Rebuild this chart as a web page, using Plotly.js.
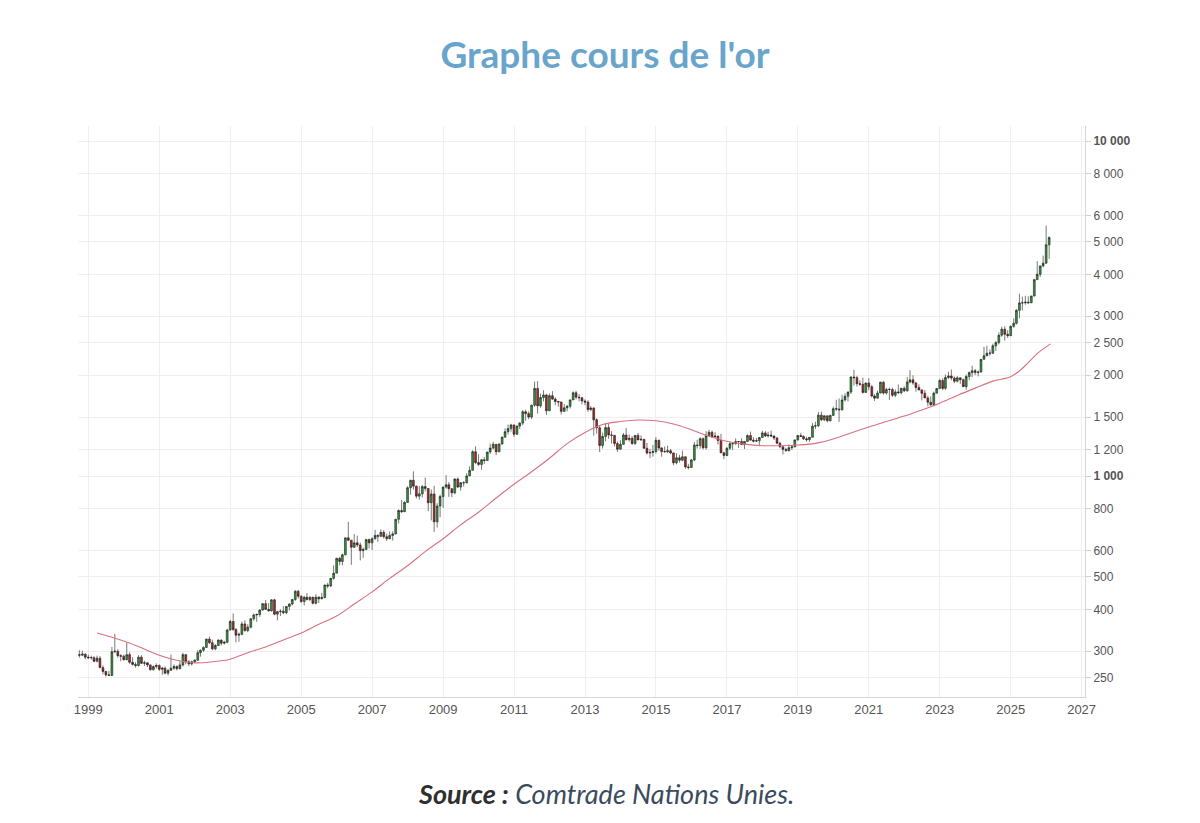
<!DOCTYPE html>
<html lang="fr">
<head>
<meta charset="utf-8">
<title>Graphe cours de l'or</title>
<script src="https://cdn.plot.ly/plotly-3.0.1.min.js"></script>
<style>
  html, body { margin: 0; padding: 0; background: #fff; overflow: hidden; }
  #gold-chart { width: 1200px; height: 823px; }
</style>
</head>
<body>
<div id="gold-chart"></div>
<script>
/* Monthly gold candles, Sep 1998 - Feb 2026 (USD / oz) */

const FIRST_MONTH = { year: 1998, month: 9 };

const opens = [
  273, 293, 292, 294,
  288, 287, 287, 280, 286, 268, 261, 255, 254, 299, 300, 291,
  290, 283, 293, 278, 274, 272, 288, 276, 277, 273, 264, 270,
  272, 265, 267, 258, 263, 267, 270, 266, 273, 293, 279, 275,
  279, 282, 297, 302, 308, 326, 318, 305, 312, 324, 317, 319,
  347, 368, 348, 335, 337, 362, 346, 354, 375, 385, 386, 398,
  416, 400, 396, 427, 387, 394, 395, 391, 408, 415, 428, 453,
  438, 422, 435, 428, 435, 417, 435, 430, 434, 473, 470, 495,
  513, 568, 556, 582, 654, 643, 613, 632, 623, 599, 604, 646,
  632, 650, 665, 661, 679, 659, 650, 665, 672, 743, 789, 783,
  834, 923, 971, 933, 871, 885, 930, 918, 833, 884, 730, 814,
  869, 927, 942, 917, 891, 980, 927, 955, 955, 1001, 1040, 1182,
  1097, 1083, 1118, 1113, 1180, 1212, 1244, 1181, 1247, 1307, 1357, 1386,
  1421, 1333, 1410, 1439, 1556, 1536, 1500, 1628, 1826, 1620, 1715, 1746,
  1566, 1738, 1697, 1669, 1664, 1560, 1598, 1615, 1688, 1773, 1720, 1713,
  1675, 1663, 1580, 1596, 1472, 1393, 1234, 1313, 1395, 1327, 1323, 1250,
  1202, 1244, 1326, 1284, 1296, 1250, 1322, 1282, 1287, 1210, 1172, 1175,
  1184, 1279, 1213, 1183, 1182, 1190, 1172, 1095, 1134, 1115, 1142, 1065,
  1061, 1117, 1238, 1233, 1293, 1215, 1322, 1351, 1309, 1316, 1277, 1173,
  1152, 1211, 1249, 1249, 1268, 1268, 1242, 1269, 1322, 1280, 1271, 1275,
  1303, 1345, 1318, 1325, 1316, 1299, 1253, 1224, 1201, 1192, 1215, 1222,
  1282, 1321, 1313, 1292, 1284, 1305, 1409, 1413, 1520, 1472, 1513, 1463,
  1517, 1589, 1585, 1577, 1687, 1730, 1781, 1975, 1967, 1886, 1879, 1777,
  1895, 1848, 1734, 1708, 1769, 1906, 1770, 1814, 1813, 1743, 1783, 1774,
  1829, 1797, 1909, 1937, 1897, 1837, 1807, 1766, 1711, 1661, 1633, 1768,
  1824, 1928, 1827, 1969, 1990, 1962, 1919, 1965, 1940, 1849, 1983, 2036,
  2063, 2039, 2044, 2230, 2286, 2327, 2326, 2447, 2503, 2634, 2744, 2650,
  2625, 2798, 2858, 3123, 3288, 3289, 3303, 3290, 3448, 3858, 4002, 4239,
  4320, 4900,
];

const highs = [
  301, 302, 301, 296,
  293, 291, 290, 291, 290, 272, 262, 262, 309, 338, 304, 294,
  293, 318, 298, 288, 278, 292, 292, 281, 278, 274, 272, 276,
  274, 269, 270, 265, 293, 274, 272, 280, 297, 294, 282, 281,
  284, 302, 304, 310, 327, 332, 325, 315, 325, 325, 322, 350,
  372, 389, 352, 341, 368, 371, 361, 376, 389, 389, 400, 418,
  427, 418, 429, 430, 395, 400, 409, 410, 417, 430, 456, 457,
  440, 438, 447, 437, 436, 444, 438, 448, 474, 480, 496, 541,
  570, 574, 586, 655, 730, 645, 671, 664, 633, 612, 650, 651,
  657, 691, 670, 693, 690, 673, 683, 684, 745, 795, 848, 842,
  932, 975, 1033, 937, 933, 940, 989, 920, 912, 935, 830, 880,
  930, 1006, 960, 920, 985, 990, 960, 965, 1020, 1070, 1195, 1227,
  1162, 1125, 1140, 1181, 1249, 1265, 1246, 1250, 1310, 1388, 1424, 1432,
  1424, 1413, 1448, 1575, 1577, 1560, 1632, 1913, 1920, 1760, 1804, 1760,
  1764, 1792, 1720, 1677, 1666, 1640, 1630, 1692, 1790, 1796, 1755, 1723,
  1695, 1684, 1617, 1605, 1488, 1417, 1348, 1434, 1434, 1361, 1326, 1267,
  1280, 1345, 1392, 1331, 1315, 1326, 1345, 1322, 1288, 1255, 1206, 1238,
  1307, 1285, 1220, 1225, 1232, 1205, 1174, 1170, 1157, 1191, 1143, 1088,
  1126, 1263, 1283, 1306, 1304, 1362, 1375, 1367, 1352, 1318, 1337, 1182,
  1220, 1264, 1262, 1295, 1272, 1296, 1270, 1331, 1357, 1306, 1299, 1307,
  1366, 1362, 1356, 1366, 1326, 1309, 1266, 1224, 1214, 1243, 1237, 1284,
  1326, 1346, 1324, 1310, 1306, 1439, 1453, 1555, 1557, 1519, 1516, 1525,
  1611, 1689, 1704, 1748, 1765, 1789, 1984, 2075, 1992, 1933, 1966, 1906,
  1959, 1872, 1756, 1798, 1913, 1917, 1832, 1834, 1834, 1814, 1877, 1831,
  1853, 1974, 2070, 1998, 1909, 1879, 1814, 1808, 1735, 1730, 1786, 1833,
  1949, 1959, 2009, 2048, 2079, 1983, 1987, 1966, 1953, 2009, 2052, 2135,
  2088, 2065, 2236, 2431, 2450, 2387, 2483, 2531, 2685, 2790, 2801, 2726,
  2817, 2956, 3149, 3500, 3435, 3452, 3439, 3453, 3871, 4381, 4245, 4550,
  5595, 5200,
];

const lows = [
  273, 287, 290, 284,
  284, 283, 278, 278, 267, 256, 252, 253, 253, 296, 287, 280,
  281, 282, 275, 272, 268, 270, 275, 271, 269, 263, 263, 266,
  262, 255, 256, 254, 263, 264, 263, 265, 270, 274, 271, 272,
  276, 281, 289, 299, 307, 315, 302, 302, 311, 312, 314, 317,
  346, 345, 319, 320, 335, 343, 342, 351, 370, 367, 380, 397,
  399, 394, 394, 384, 371, 382, 387, 387, 397, 411, 424, 431,
  418, 411, 425, 423, 414, 414, 418, 429, 432, 462, 466, 490,
  513, 541, 541, 580, 640, 543, 610, 614, 560, 570, 601, 608,
  602, 646, 636, 658, 651, 640, 648, 642, 670, 722, 775, 780,
  833, 880, 911, 857, 850, 863, 900, 786, 737, 681, 702, 753,
  803, 917, 866, 865, 882, 922, 904, 930, 950, 1000, 1040, 1085,
  1072, 1045, 1087, 1111, 1164, 1202, 1155, 1180, 1240, 1300, 1330, 1357,
  1309, 1326, 1381, 1418, 1462, 1478, 1480, 1610, 1535, 1600, 1670, 1522,
  1563, 1690, 1628, 1611, 1527, 1552, 1560, 1590, 1686, 1693, 1672, 1636,
  1626, 1555, 1562, 1321, 1338, 1180, 1208, 1270, 1292, 1251, 1226, 1180,
  1201, 1240, 1277, 1268, 1240, 1240, 1280, 1273, 1206, 1160, 1131, 1142,
  1167, 1190, 1142, 1175, 1170, 1162, 1077, 1084, 1098, 1108, 1052, 1046,
  1058, 1107, 1208, 1206, 1200, 1200, 1310, 1302, 1305, 1242, 1171, 1123,
  1146, 1195, 1195, 1240, 1214, 1237, 1204, 1267, 1277, 1260, 1264, 1236,
  1302, 1307, 1303, 1310, 1282, 1246, 1211, 1160, 1180, 1182, 1196, 1221,
  1276, 1309, 1281, 1266, 1266, 1304, 1381, 1400, 1459, 1458, 1446, 1454,
  1515, 1563, 1451, 1567, 1670, 1670, 1758, 1863, 1849, 1860, 1764, 1775,
  1803, 1718, 1677, 1705, 1765, 1750, 1751, 1688, 1721, 1720, 1758, 1753,
  1780, 1786, 1890, 1872, 1787, 1805, 1681, 1709, 1615, 1617, 1616, 1765,
  1823, 1804, 1809, 1949, 1932, 1893, 1903, 1884, 1846, 1810, 1931, 1974,
  2001, 1984, 2038, 2228, 2277, 2286, 2318, 2364, 2471, 2603, 2537, 2583,
  2614, 2772, 2832, 2957, 3121, 3247, 3268, 3282, 3436, 3850, 3930, 4200,
  4300, 4450,
];

const closes = [
  293, 292, 294, 288,
  287, 287, 280, 286, 268, 261, 255, 254, 299, 300, 291, 290,
  283, 293, 278, 274, 272, 288, 276, 277, 273, 264, 270, 272,
  265, 267, 258, 263, 267, 270, 266, 273, 293, 279, 275, 279,
  282, 297, 302, 308, 326, 318, 305, 312, 324, 317, 319, 347,
  368, 348, 335, 337, 362, 346, 354, 375, 385, 386, 398, 416,
  400, 396, 427, 387, 394, 395, 391, 408, 415, 428, 453, 438,
  422, 435, 428, 435, 417, 435, 430, 434, 473, 470, 495, 513,
  568, 556, 582, 654, 643, 613, 632, 623, 599, 604, 646, 632,
  650, 665, 661, 679, 659, 650, 665, 672, 743, 789, 783, 834,
  923, 971, 933, 871, 885, 930, 918, 833, 884, 730, 814, 869,
  927, 942, 917, 891, 980, 927, 955, 955, 1001, 1040, 1182, 1097,
  1083, 1118, 1113, 1180, 1212, 1244, 1181, 1247, 1307, 1357, 1386, 1421,
  1333, 1410, 1439, 1556, 1536, 1500, 1628, 1826, 1620, 1715, 1746, 1566,
  1738, 1697, 1669, 1664, 1560, 1598, 1615, 1688, 1773, 1720, 1713, 1675,
  1663, 1580, 1596, 1472, 1393, 1234, 1313, 1395, 1327, 1323, 1250, 1202,
  1244, 1326, 1284, 1296, 1250, 1322, 1282, 1287, 1210, 1172, 1175, 1184,
  1279, 1213, 1183, 1182, 1190, 1172, 1095, 1134, 1115, 1142, 1065, 1061,
  1117, 1238, 1233, 1293, 1215, 1322, 1351, 1309, 1316, 1277, 1173, 1152,
  1211, 1249, 1249, 1268, 1268, 1242, 1269, 1322, 1280, 1271, 1275, 1303,
  1345, 1318, 1325, 1316, 1299, 1253, 1224, 1201, 1192, 1215, 1222, 1282,
  1321, 1313, 1292, 1284, 1305, 1409, 1413, 1520, 1472, 1513, 1463, 1517,
  1589, 1585, 1577, 1687, 1730, 1781, 1975, 1967, 1886, 1879, 1777, 1895,
  1848, 1734, 1708, 1769, 1906, 1770, 1814, 1813, 1743, 1783, 1774, 1829,
  1797, 1909, 1937, 1897, 1837, 1807, 1766, 1711, 1661, 1633, 1768, 1824,
  1928, 1827, 1969, 1990, 1962, 1919, 1965, 1940, 1849, 1983, 2036, 2063,
  2039, 2044, 2230, 2286, 2327, 2326, 2447, 2503, 2634, 2744, 2650, 2625,
  2798, 2858, 3123, 3288, 3289, 3303, 3290, 3448, 3858, 4002, 4239, 4320,
  4900, 5150,
];

/* long moving average */
const maDates = [
  "1999-04-01", "2000-01-01", "2000-07-01", "2001-01-01", "2001-07-01",
  "2002-01-01", "2002-07-01", "2003-01-01", "2003-07-01", "2004-01-01",
  "2004-07-01", "2005-01-01", "2005-07-01", "2006-01-01", "2006-07-01",
  "2007-01-01", "2007-07-01", "2008-01-01", "2008-07-01", "2009-01-01",
  "2009-07-01", "2010-01-01", "2010-07-01", "2011-01-01", "2011-07-01",
  "2012-01-01", "2012-07-01", "2013-01-01", "2013-07-01", "2014-01-01",
  "2014-07-01", "2015-01-01", "2015-07-01", "2016-01-01", "2016-07-01",
  "2017-01-01", "2017-07-01", "2018-01-01", "2018-07-01", "2019-01-01",
  "2019-07-01", "2020-01-01", "2020-07-01", "2021-01-01", "2021-07-01",
  "2022-01-01", "2022-07-01", "2023-01-01", "2023-07-01", "2024-01-01",
  "2024-07-01", "2025-01-01", "2025-04-01", "2025-07-01", "2025-10-01",
  "2026-02-15",
];
const maValues = [
  340, 322, 307, 292, 282,
  277, 279, 284, 297, 309,
  324, 340, 361, 382, 415,
  451, 495, 540, 595, 650,
  715, 780, 860, 945, 1030,
  1130, 1250, 1350, 1425, 1455,
  1470, 1462, 1430, 1375, 1315,
  1270, 1245, 1232, 1232, 1238,
  1252, 1290, 1345, 1400, 1455,
  1510, 1575, 1650, 1740, 1830,
  1920, 1980, 2060, 2180, 2320,
  2480,
];

const yTickVals = [250, 300, 400, 500, 600, 800, 1000, 1200, 1500, 2000, 2500, 3000, 4000, 5000, 6000, 8000, 10000];
const yTickText = ["250", "300", "400", "500", "600", "800", "<b>1 000</b>", "1 200", "1 500", "2 000", "2 500", "3 000", "4 000", "5 000", "6 000", "8 000", "<b>10 000</b>"];

document.addEventListener("DOMContentLoaded", () => {
  renderGoldChart();
});

function monthDates(count) {
  const dates = [];
  for (let i = 0; i < count; i++) {
    const m = FIRST_MONTH.month - 1 + i;
    const y = FIRST_MONTH.year + Math.floor(m / 12);
    const mm = String((m % 12) + 1).padStart(2, "0");
    dates.push(`${y}-${mm}-01`);
  }
  return dates;
}

function renderGoldChart() {
  const candles = {
    type: "candlestick",
    x: monthDates(closes.length),
    open: opens,
    high: highs,
    low: lows,
    close: closes,
    whiskerwidth: 0,
    increasing: { line: { color: "#1c1c1c", width: 0.6 }, fillcolor: "#2f9a38" },
    decreasing: { line: { color: "#1c1c1c", width: 0.6 }, fillcolor: "#b3242a" },
    hoverinfo: "skip",
  };

  const movingAverage = {
    type: "scatter",
    mode: "lines",
    x: maDates,
    y: maValues,
    line: { color: "#d9707f", width: 1.1, shape: "spline" },
    hoverinfo: "skip",
  };

  const layout = {
    width: 1200,
    height: 823,
    margin: { t: 126, r: 115, b: 126, l: 78 },
    paper_bgcolor: "#ffffff",
    plot_bgcolor: "#ffffff",
    showlegend: false,
    boxgap: 0.05,
    font: { family: "Liberation Sans, Arial, sans-serif", color: "#555" },
    title: {
      text: "Graphe cours de l'or",
      font: { family: "Lato, Open Sans, sans-serif", size: 37, color: "#69a5cb", weight: "bold" },
      xref: "container",
      yref: "container",
      x: 605 / 1200,
      y: 1 - 55 / 823,
      xanchor: "center",
      yanchor: "middle",
    },
    xaxis: {
      type: "date",
      range: ["1998-09-17", "2027-02-05"],
      tick0: "1999-01-01",
      dtick: "M24",
      tickformat: "%Y",
      ticklabeloverflow: "allow",
      showgrid: true,
      gridcolor: "#efefef",
      showline: true,
      linecolor: "#d6d6d6",
      zeroline: false,
      ticks: "",
      tickfont: { size: 13, color: "#555" },
      rangeslider: { visible: false },
      fixedrange: true,
    },
    yaxis: {
      type: "log",
      side: "right",
      range: [Math.log10(219), Math.log10(11090)],
      tickvals: yTickVals,
      ticktext: yTickText,
      showgrid: true,
      gridcolor: "#efefef",
      showline: true,
      linecolor: "#d6d6d6",
      ticks: "outside",
      ticklen: 5,
      tickcolor: "#d0d0d0",
      tickfont: { size: 12, color: "#555" },
      zeroline: false,
      fixedrange: true,
    },
    annotations: [
      {
        xref: "paper",
        yref: "paper",
        x: 528 / 1007,
        y: (697 - 793) / 571,
        xanchor: "center",
        yanchor: "middle",
        showarrow: false,
        text: "<b><i><span style='color:#2f2f2f'>Source :</span></i></b><i> Comtrade Nations Unies.</i>",
        font: { family: "Lato, Open Sans, sans-serif", size: 27, color: "#3b4b5e" },
      },
    ],
  };

  Plotly.newPlot("gold-chart", [candles, movingAverage], layout, {
    displayModeBar: false,
    staticPlot: true,
  });
}
</script>
</body>
</html>
